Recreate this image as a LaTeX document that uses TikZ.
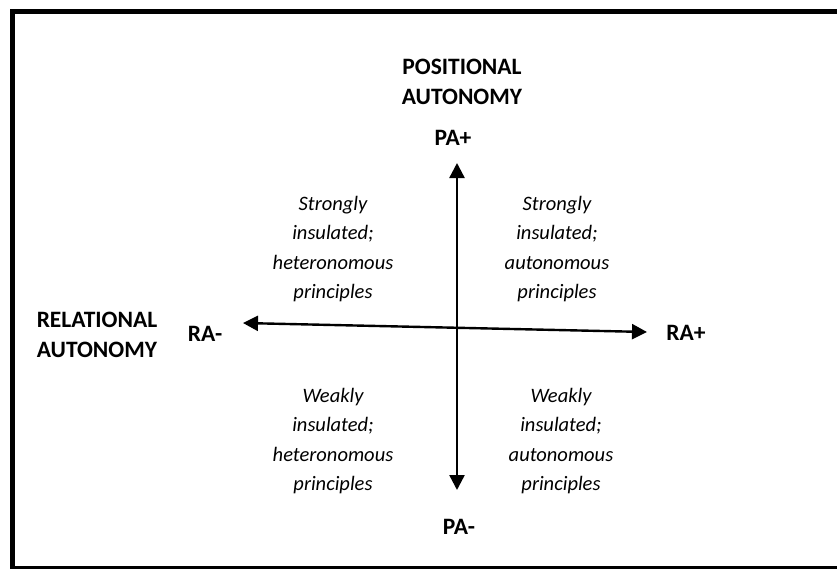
\documentclass[tikz,border=0pt]{standalone}
\usepackage{fontspec}
\setmainfont{Carlito}
\usetikzlibrary{arrows.meta}
\tikzset{
  lab/.style={font=\fontsize{23.5}{29.5}\selectfont\bfseries, align=center, inner sep=0pt},
  quad/.style={font=\fontsize{20.5}{29.3}\selectfont\itshape, align=center, inner sep=0pt},
  axis/.style={line width=2.4pt, {Triangle[length=15pt,width=15pt]}-{Triangle[length=15pt,width=15pt]}},
  frame/.style={line width=5pt}
}
\begin{document}
\begin{tikzpicture}[x=1pt,y=-1pt]
\useasboundingbox (0,0) rectangle (837,568);
\begin{scope}
\clip (0,0) rectangle (837,568);
\draw[frame] (12.5,11.5) rectangle (845,568.7);
\end{scope}
% axes
\coordinate (top) at (457,163);
\coordinate (bot) at (457,490);
\coordinate (left) at (243,323);
\coordinate (right) at (647,332);
\draw[axis] (bot) -- (top);
\draw[axis] (right) -- (left);
% labels
\node[lab] (pa) at (462,82) {POSITIONAL\\AUTONOMY};
\node[lab] (paplus) at (453,138) {PA+};
\node[lab] (paminus) at (459,527) {PA-};
\node[lab] (ra) at (97,335) {RELATIONAL\\AUTONOMY};
\node[lab] (raminus) at (205,334) {RA-};
\node[lab] (raplus) at (686,333) {RA+};
% quadrants
\node[quad] (tl) at (333,249) {Strongly\\insulated;\\heteronomous\\principles};
\node[quad] (tr) at (557,249) {Strongly\\insulated;\\autonomous\\principles};
\node[quad] (bl) at (333,441) {Weakly\\insulated;\\heteronomous\\principles};
\node[quad] (br) at (561,441) {Weakly\\insulated;\\autonomous\\principles};
\end{tikzpicture}
\end{document}
